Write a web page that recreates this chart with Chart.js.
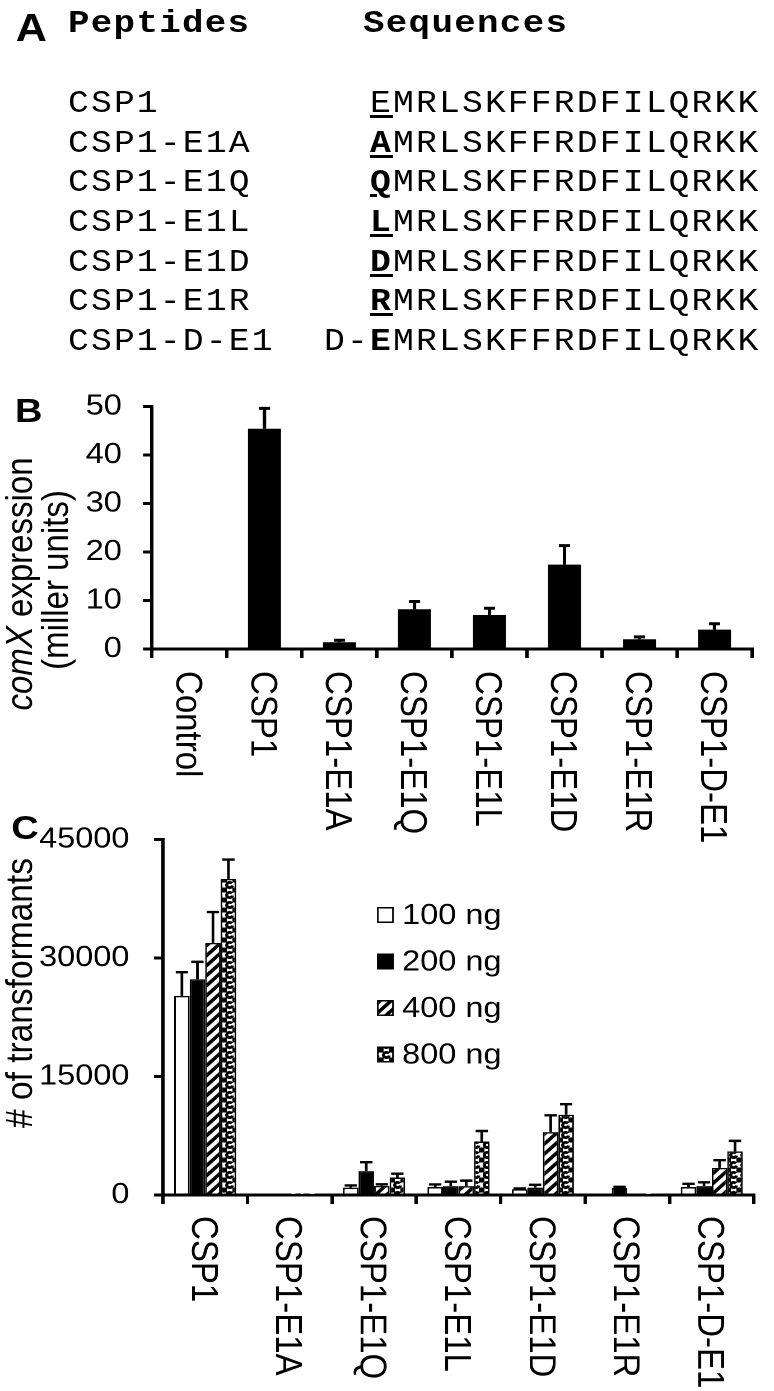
<!DOCTYPE html>
<html lang="en">
<head>
  <meta charset="UTF-8" />
  <title>CSP1 variants: comX expression and transformation</title>
  <script src="https://cdn.jsdelivr.net/npm/chart.js"></script>
  <style>
    html, body { margin: 0; padding: 0; background: #fff; }
    body { width: 774px; height: 1391px; overflow: hidden; }
    /* the source figure is stretched sideways, so the whole page is too */
    .page {
      position: relative;
      width: 691px;
      height: 1391px;
      transform: scaleX(1.12);
      transform-origin: 0 0;
    }
    .letter {
      position: absolute;
      font-family: 'Liberation Sans', Arial, sans-serif;
      font-weight: bold;
      line-height: 1;
      color: #000;
    }
    .mono {
      position: absolute;
      font-family: 'Liberation Mono', 'Courier New', monospace;
      color: #000;
    }
    .head { top: 7.5px; font-size: 32px; font-weight: bold; letter-spacing: 1.16px; line-height: 1; white-space: pre; }
    .rows { top: 83.9px; font-size: 31px; letter-spacing: 1.9px; line-height: 39.7px; }
    .rows div { white-space: pre; }
    .u { text-decoration: underline; text-decoration-thickness: 3px; text-underline-offset: 3px; }
    canvas { position: absolute; left: 0; }
  </style>
</head>
<body>
  <div class="page">
    <div class="letter" style="left:14px; top:9px; font-size:38.5px;">A</div>
    <div class="mono head" style="left:60.7px;">Peptides</div>
    <div class="mono head" style="left:324.1px;">Sequences</div>
    <div class="mono rows" id="names" style="left:60.7px;"></div>
    <div class="mono rows" id="seqs" style="left:289.4px;"></div>

    <canvas id="chartB" width="691" height="480" style="top:370px; width:691px; height:480px;"></canvas>
    <canvas id="chartC" width="691" height="591" style="top:800px; width:691px; height:591px;"></canvas>

    <div class="letter" style="left:13.4px; top:392.6px; font-size:34px;">B</div>
    <div class="letter" style="left:10px; top:809.6px; font-size:34px;">C</div>
  </div>

  <script>
    // ---- panel A table ----
    const peptides = ['CSP1', 'CSP1-E1A', 'CSP1-E1Q', 'CSP1-E1L', 'CSP1-E1D', 'CSP1-E1R', 'CSP1-D-E1'];
    const seqPrefix = ['  ', '  ', '  ', '  ', '  ', '  ', 'D-'];
    const firstResidue = ['E', 'A', 'Q', 'L', 'D', 'R', 'E'];
    const firstBold = [false, true, true, true, true, true, true];
    const firstUnderline = [true, true, true, true, true, true, false];
    const coreSeq = 'MRLSKFFRDFILQRKK';

    // ---- panel B: comX expression ----
    const categoriesB = ['Control', 'CSP1', 'CSP1-E1A', 'CSP1-E1Q', 'CSP1-E1L', 'CSP1-E1D', 'CSP1-E1R', 'CSP1-D-E1'];
    const expressionB = [0, 45.4, 1.4, 8.2, 7.0, 17.4, 2.0, 4.0];
    const expressionErrB = [0, 4.2, 0.4, 1.6, 1.4, 3.9, 0.5, 1.2];
    const ticksB = [0, 10, 20, 30, 40, 50];

    // ---- panel C: transformants per DNA amount ----
    const categoriesC = ['CSP1', 'CSP1-E1A', 'CSP1-E1Q', 'CSP1-E1L', 'CSP1-E1D', 'CSP1-E1R', 'CSP1-D-E1'];
    const doses = ['100 ng', '200 ng', '400 ng', '800 ng'];
    const ng100 = [25200, 0, 930, 1010, 730, 0, 1010];
    const ng100Err = [3000, 0, 280, 330, 100, 0, 400];
    const ng200 = [27300, 0, 3020, 1130, 930, 890, 1130];
    const ng200Err = [2200, 0, 1130, 560, 360, 150, 480];
    const ng400 = [31900, 80, 1150, 1130, 7950, 0, 3430];
    const ng400Err = [3900, 0, 200, 690, 2130, 0, 970];
    const ng800 = [40000, 80, 2220, 6770, 10160, 80, 5520];
    const ng800Err = [2450, 0, 480, 1330, 1330, 0, 1330];
    const ticksC = [0, 15000, 30000, 45000];

    const FONT = "'Liberation Sans', Arial, sans-serif";
    Chart.defaults.font.family = FONT;
    Chart.defaults.color = '#000';

    // build panel A
    document.getElementById('names').innerHTML = peptides.map(p => `<div>${p}</div>`).join('');
    document.getElementById('seqs').innerHTML = peptides.map((p, i) => {
      let first = firstResidue[i];
      if (firstBold[i]) first = `<b>${first}</b>`;
      if (firstUnderline[i]) first = `<span class="u">${first}</span>`;
      return `<div>${seqPrefix[i]}${first}${coreSeq}</div>`;
    }).join('');

    // fill patterns for panel C
    function tile(draw) {
      const c = document.createElement('canvas');
      c.width = 20; c.height = 20;
      const g = c.getContext('2d');
      g.scale(2, 2);
      g.fillStyle = '#fff';
      g.fillRect(0, 0, 10, 10);
      draw(g);
      const pat = g.createPattern(c, 'repeat');
      pat.setTransform(new DOMMatrix().scale(0.5));
      return pat;
    }
    const hatch = tile(g => {
      g.strokeStyle = '#000';
      g.lineWidth = 3.4;
      g.beginPath();
      g.moveTo(-5, 5); g.lineTo(5, -5);
      g.moveTo(0, 10); g.lineTo(10, 0);
      g.moveTo(5, 15); g.lineTo(15, 5);
      g.stroke();
    });
    const swirl = tile(g => {
      g.strokeStyle = '#000';
      g.lineWidth = 2.8;
      g.beginPath();
      g.arc(5, 5, 2.6, 0.2, Math.PI * 1.8);
      g.stroke();
      g.fillStyle = '#000';
      g.fillRect(0, 0, 2.5, 2.5);
      g.fillRect(7.5, 0, 2.5, 2.5);
      g.fillRect(0, 7.5, 2.5, 2.5);
      g.fillRect(7.5, 7.5, 2.5, 2.5);
    });

    // plugins
    function errorBarPlugin(lineWidth, cap) {
      return {
        id: 'errorBars',
        afterDatasetsDraw(chart) {
          const ctx = chart.ctx;
          const yScale = chart.scales.y;
          ctx.save();
          ctx.strokeStyle = '#000';
          ctx.lineWidth = lineWidth;
          chart.data.datasets.forEach((ds, i) => {
            chart.getDatasetMeta(i).data.forEach((bar, j) => {
              const err = ds.errors[j];
              if (!err) return;
              const top = yScale.getPixelForValue(ds.data[j] + err);
              ctx.beginPath();
              ctx.moveTo(bar.x, bar.y);
              ctx.lineTo(bar.x, top);
              ctx.moveTo(bar.x - cap / 2, top);
              ctx.lineTo(bar.x + cap / 2, top);
              ctx.stroke();
            });
          });
          ctx.restore();
        }
      };
    }

    // category labels that read downwards
    function downLabelPlugin(size, gap) {
      return {
        id: 'downLabels',
        afterDraw(chart) {
          const ctx = chart.ctx;
          const xs = chart.scales.x;
          ctx.save();
          ctx.font = size + 'px ' + FONT;
          ctx.fillStyle = '#000';
          ctx.textAlign = 'left';
          ctx.textBaseline = 'alphabetic';
          chart.data.labels.forEach((label, i) => {
            ctx.save();
            ctx.translate(xs.getPixelForValue(i) - size * 0.36, chart.chartArea.bottom + gap);
            ctx.rotate(Math.PI / 2);
            ctx.fillText(label, 0, 0);
            ctx.restore();
          });
          ctx.restore();
        }
      };
    }

    function sideTitlePlugin(lines, size) {
      return {
        id: 'sideTitle',
        afterDraw(chart) {
          const ctx = chart.ctx;
          ctx.save();
          ctx.fillStyle = '#000';
          ctx.textAlign = 'left';
          ctx.textBaseline = 'alphabetic';
          lines.forEach(line => {
            const fonts = line.parts.map(p => (p.italic ? 'italic ' : '') + size + 'px ' + FONT);
            const widths = line.parts.map((p, k) => { ctx.font = fonts[k]; return ctx.measureText(p.text).width; });
            const total = widths.reduce((a, b) => a + b, 0);
            ctx.save();
            ctx.translate(line.x, line.y);
            ctx.rotate(-Math.PI / 2);
            let pos = -total / 2;
            line.parts.forEach((p, k) => {
              ctx.font = fonts[k];
              ctx.fillText(p.text, pos, 0);
              pos += widths[k];
            });
            ctx.restore();
          });
          ctx.restore();
        }
      };
    }

    function doseLegendPlugin(x, y0, step, size) {
      return {
        id: 'doseLegend',
        afterDraw(chart) {
          const ctx = chart.ctx;
          ctx.save();
          ctx.font = size + 'px ' + FONT;
          ctx.textAlign = 'left';
          ctx.textBaseline = 'middle';
          chart.data.datasets.forEach((ds, i) => {
            const cy = y0 + i * step;
            ctx.fillStyle = ds.backgroundColor;
            ctx.fillRect(x, cy - 8, 15, 16);
            ctx.strokeStyle = '#000';
            ctx.lineWidth = 1.5;
            ctx.strokeRect(x + 0.75, cy - 7.25, 13.5, 14.5);
            ctx.fillStyle = '#000';
            ctx.fillText(ds.label, x + 22.4, cy + 1);
          });
          ctx.restore();
        }
      };
    }

    function blackAxis(tickLength) {
      return {
        grid: { drawOnChartArea: false, color: '#000', lineWidth: 3, tickLength: tickLength },
        border: { color: '#000', width: 3 }
      };
    }

    // panel B
    new Chart(document.getElementById('chartB'), {
      type: 'bar',
      data: {
        labels: categoriesB,
        datasets: [{
          data: expressionB,
          errors: expressionErrB,
          backgroundColor: '#000',
          borderWidth: 0,
          barPercentage: 0.44,
          categoryPercentage: 1
        }]
      },
      options: {
        responsive: false,
        devicePixelRatio: 2,
        animation: false,
        layout: { padding: { top: 29, right: 19.6, left: 0, bottom: 0 } },
        plugins: { legend: { display: false }, tooltip: { enabled: false } },
        scales: {
          x: {
            ...blackAxis(9),
            ticks: { display: false },
            afterFit: s => { s.height = 201; }
          },
          y: {
            ...blackAxis(8),
            min: ticksB[0],
            max: ticksB[ticksB.length - 1],
            afterBuildTicks: s => { s.ticks = ticksB.map(v => ({ value: v })); },
            ticks: { padding: 19, font: { size: 29 } },
            afterFit: s => { s.width = 135.7; }
          }
        }
      },
      plugins: [
        errorBarPlugin(3, 10),
        downLabelPlugin(33, 22),
        sideTitlePlugin([
          { x: 28.6, y: 214, parts: [{ text: 'comX', italic: true }, { text: ' expression' }] },
          { x: 60.7, y: 210, parts: [{ text: '(miller units)' }] }
        ], 33)
      ]
    });

    // panel C
    const doseData = [ng100, ng200, ng400, ng800];
    const doseErr = [ng100Err, ng200Err, ng400Err, ng800Err];
    const doseFill = ['#fff', '#000', hatch, swirl];

    new Chart(document.getElementById('chartC'), {
      type: 'bar',
      data: {
        labels: categoriesC,
        datasets: doses.map((d, i) => ({
          label: d,
          data: doseData[i],
          errors: doseErr[i],
          backgroundColor: doseFill[i],
          borderColor: '#000',
          borderWidth: 1.5,
          barPercentage: 1,
          categoryPercentage: 0.735
        }))
      },
      options: {
        responsive: false,
        devicePixelRatio: 2,
        animation: false,
        layout: { padding: { top: 23, right: 17.8, left: 0, bottom: 0 } },
        plugins: { legend: { display: false }, tooltip: { enabled: false } },
        scales: {
          x: {
            ...blackAxis(9),
            ticks: { display: false },
            afterFit: s => { s.height = 196; }
          },
          y: {
            ...blackAxis(8),
            min: ticksC[0],
            max: ticksC[ticksC.length - 1],
            afterBuildTicks: s => { s.ticks = ticksC.map(v => ({ value: v })); },
            ticks: { padding: 22, font: { size: 29 }, callback: v => String(v) },
            afterFit: s => { s.width = 145.5; }
          }
        }
      },
      plugins: [
        errorBarPlugin(2.4, 11),
        downLabelPlugin(33, 21),
        doseLegendPlugin(336.6, 115, 46.5, 29),
        sideTitlePlugin([
          { x: 28.6, y: 193, parts: [{ text: '# of transformants' }] }
        ], 33.5)
      ]
    });
  </script>
</body>
</html>
